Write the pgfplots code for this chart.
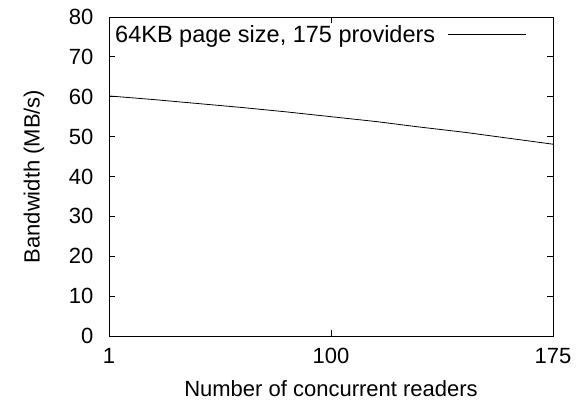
\documentclass[border=0pt]{standalone}
\usepackage{fontspec}
\setmainfont{Liberation Sans}
\usepackage{pgfplots}
\pgfplotsset{compat=1.18}
\begin{document}
\begin{tikzpicture}
\begin{axis}[
  scale only axis,
  width=444pt, height=319pt,
  xmin=0, xmax=2, ymin=0, ymax=80,
  xtick={0,1,2}, xticklabels={1,100,175},
  ytick={0,10,...,80},
  tick align=inside,
  major tick length=6pt,
  axis line style={line width=0.8pt},
  every tick/.style={black, line width=0.8pt},
  /pgf/number format/assume math mode=true,
  tick label style={font=\fontsize{22}{26}\selectfont},
  xticklabel style={yshift=-9pt},
  yticklabel style={xshift=-12pt},
  label style={font=\fontsize{22}{26}\selectfont},
  xlabel={Number of concurrent readers},
  ylabel={Bandwidth (MB/s)},
  xlabel style={at={(axis description cs:0.5,-0.166)}, anchor=center},
  ylabel style={at={(axis description cs:-0.169,0.5)}, anchor=center},
  legend style={draw=none, fill=none, at={(axis description cs:0,1)}, anchor=north west,
    xshift=3pt, yshift=-5pt,
    font=\fontsize{23.5}{27}\selectfont, legend plot pos=right, inner sep=1pt},
  legend image code/.code={\draw[#1] (0pt,0pt) -- (78pt,0pt);},
]
\addplot[black, line width=0.8pt] coordinates {
  (0,60.2) (0.2,59.3) (0.4,58.3) (0.6,57.3) (0.8,56.2) (1.0,55.0)
  (1.2,53.8) (1.4,52.4) (1.6,51.1) (1.8,49.6) (2.0,48.1)
};
\addlegendentry{64KB page size, 175 providers\hspace*{10pt}}
\end{axis}
\path[use as bounding box] (current axis.south west) ++(-109pt,-73pt) rectangle ([xshift=34pt,yshift=17pt]current axis.north east);
\end{tikzpicture}
\end{document}
